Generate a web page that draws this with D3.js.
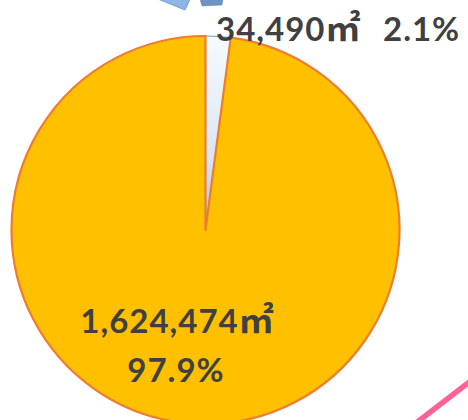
<!DOCTYPE html>
<html>
<head>
<meta charset="utf-8">
<script src="https://cdn.jsdelivr.net/npm/d3@7"></script>
<style>
html,body{margin:0;padding:0;background:#fff;}
svg{display:block;}
.lbl{font-family:Lato,"Open Sans",sans-serif;font-weight:bold;fill:#404040;letter-spacing:1px;}
.unit{font-family:"Noto Sans CJK KR","Noto Sans CJK SC",sans-serif;font-weight:bold;letter-spacing:0;}
</style>
</head>
<body>
<svg id="chart" width="468" height="420"></svg>
<script>
const categories = ["small", "large"];
const areaValues = [34490, 1624474];
const areaLabels = ["34,490", "1,624,474"];
const percentLabels = ["2.1%", "97.9%"];
const unit = "㎡";

const svg = d3.select("#chart");
const cx = 205.5, cy = 230, R = 194;

const defs = svg.append("defs");
const grad = defs.append("linearGradient").attr("id", "blueGrad")
  .attr("x1", 0).attr("y1", 0).attr("x2", 0).attr("y2", 1);
grad.append("stop").attr("offset", "0%").attr("stop-color", "#f7fafd");
grad.append("stop").attr("offset", "60%").attr("stop-color", "#dbe7f5");
grad.append("stop").attr("offset", "100%").attr("stop-color", "#a9c8ea");

// decorative fragments of neighbouring drawings
svg.append("path").attr("d", "M158,-1 L185,10 L190,-1 Z")
  .attr("fill", "#8fb6e3").attr("stroke", "#6f9fd6").attr("stroke-width", 1);
svg.append("path").attr("d", "M200,-1 L223,-1 L222,5 L202,6 Z")
  .attr("fill", "#6e92c4").attr("stroke", "#5b80b6").attr("stroke-width", 0.5);
svg.append("line").attr("x1", 416).attr("y1", 423).attr("x2", 472).attr("y2", 380)
  .attr("stroke", "#ff6297").attr("stroke-width", 5.5);

const pie = d3.pie().sort(null).value(d => d)(areaValues);
const arc = d3.arc().innerRadius(0).outerRadius(R);
const fills = ["url(#blueGrad)", "#ffc000"];
const strokes = ["#5b9bd5", "#ed7d31"];
const widths = [1, 2.2];

const g = svg.append("g").attr("transform", `translate(${cx},${cy})`);
g.selectAll("path.slice").data(pie).join("path")
  .attr("class", "slice")
  .attr("d", arc)
  .attr("fill", (d, i) => fills[i])
  .attr("stroke", (d, i) => strokes[i])
  .attr("stroke-width", (d, i) => widths[i])
  .attr("stroke-linejoin", "round");

// label for small slice
const t1 = svg.append("text").attr("class", "lbl").attr("x", 216).attr("y", 41).attr("font-size", 33);
t1.append("tspan").text(areaLabels[0]);
t1.append("tspan").attr("class", "unit").attr("font-size", 35).text(unit);
t1.append("tspan").attr("x", 383).text(percentLabels[0]);

// label for large slice
const t2 = svg.append("text").attr("class", "lbl").attr("text-anchor", "middle").attr("font-size", 33);
const l1 = t2.append("tspan").attr("x", 177).attr("y", 333);
l1.append("tspan").text(areaLabels[1]);
l1.append("tspan").attr("class", "unit").attr("font-size", 35).text(unit);
t2.append("tspan").attr("x", 176).attr("y", 382).text(percentLabels[1]);
</script>
</body>
</html>
